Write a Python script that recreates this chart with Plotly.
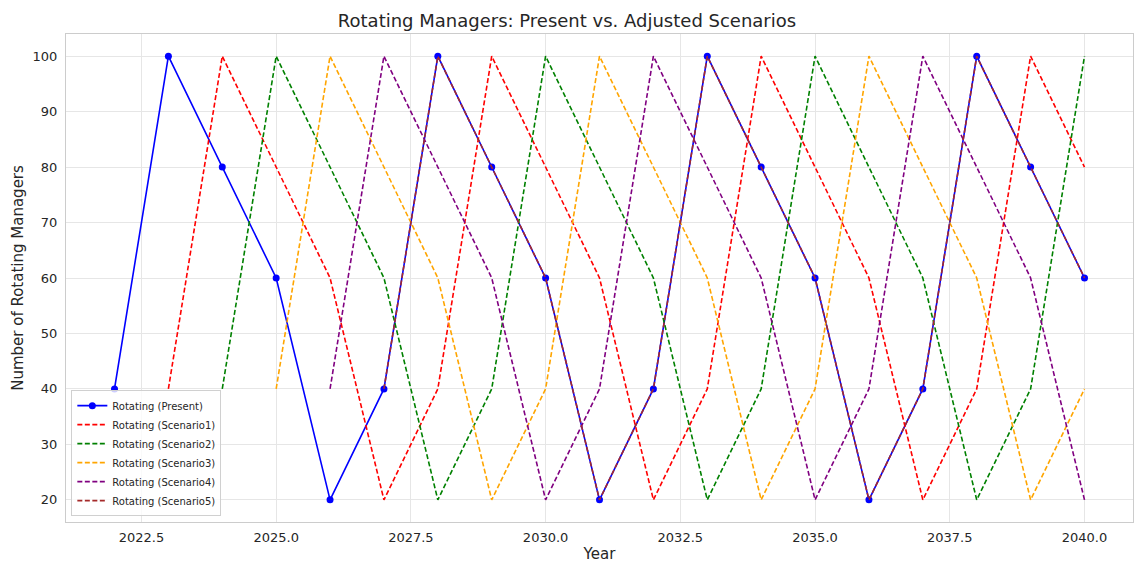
import plotly.graph_objects as go

years = list(range(2022, 2041))
present = [40, 100, 80, 60, 20, 40, 100, 80, 60, 20, 40, 100, 80, 60, 20, 40, 100, 80, 60]

years_s1 = list(range(2023, 2041))
scenario1 = [40, 100, 80, 60, 20, 40, 100, 80, 60, 20, 40, 100, 80, 60, 20, 40, 100, 80]
years_s2 = list(range(2024, 2041))
scenario2 = [40, 100, 80, 60, 20, 40, 100, 80, 60, 20, 40, 100, 80, 60, 20, 40, 100]
years_s3 = list(range(2025, 2041))
scenario3 = [40, 100, 80, 60, 20, 40, 100, 80, 60, 20, 40, 100, 80, 60, 20, 40]
years_s4 = list(range(2026, 2041))
scenario4 = [40, 100, 80, 60, 20, 40, 100, 80, 60, 20, 40, 100, 80, 60, 20]
years_s5 = list(range(2027, 2041))
scenario5 = [40, 100, 80, 60, 20, 40, 100, 80, 60, 20, 40, 100, 80, 60]

scenarios = [
    ("Rotating (Scenario1)", years_s1, scenario1, "red"),
    ("Rotating (Scenario2)", years_s2, scenario2, "green"),
    ("Rotating (Scenario3)", years_s3, scenario3, "orange"),
    ("Rotating (Scenario4)", years_s4, scenario4, "purple"),
    ("Rotating (Scenario5)", years_s5, scenario5, "brown"),
]

fig = go.Figure()
fig.add_trace(go.Scatter(x=years, y=present, mode="lines+markers", name="Rotating (Present)",
                         line=dict(color="blue", width=1.6),
                         marker=dict(color="blue", size=7)))
for name, xs, ys, c in scenarios:
    fig.add_trace(go.Scatter(x=xs, y=ys, mode="lines", name=name,
                             line=dict(color=c, width=1.6, dash="5px,2.5px")))

font = "DejaVu Sans, Arial, sans-serif"
fig.update_layout(
    width=1134, height=563,
    margin=dict(l=66, r=1, t=34, b=41, autoexpand=False),
    paper_bgcolor="white", plot_bgcolor="white",
    font=dict(family=font, color="#262626", size=13),
    title=dict(text="Rotating Managers: Present vs. Adjusted Scenarios", x=0.5, xanchor="center",
               y=0.964, yanchor="middle", font=dict(size=18, color="#262626")),
    legend=dict(x=0.005, y=0.012, xanchor="left", yanchor="bottom",
                bgcolor="rgba(255,255,255,0.8)", bordercolor="#d0d0d0", borderwidth=1,
                font=dict(size=10), tracegroupgap=0, itemwidth=30),
    showlegend=True,
)
fig.update_xaxes(range=[2021.1, 2040.9], tick0=2022.5, dtick=2.5, tickformat=".1f",
                 showgrid=True, gridcolor="#e6e6e6", zeroline=False, automargin=False,
                 showline=True, linecolor="#cccccc", mirror=True, ticks="",
                 ticklabelstandoff=3,
                 title=dict(text="Year", font=dict(size=15), standoff=12),
                 tickfont=dict(size=13))
fig.update_yaxes(range=[16, 104], tick0=20, dtick=10,
                 showgrid=True, gridcolor="#e6e6e6", zeroline=False, automargin=False,
                 showline=True, linecolor="#cccccc", mirror=True, ticks="",
                 ticklabelstandoff=5,
                 title=dict(text="Number of Rotating Managers", font=dict(size=15), standoff=5),
                 tickfont=dict(size=13))

fig.write_html("out.html", config={"displayModeBar": False},
               post_script="document.body.style.margin='0';document.body.style.overflow='hidden';")
